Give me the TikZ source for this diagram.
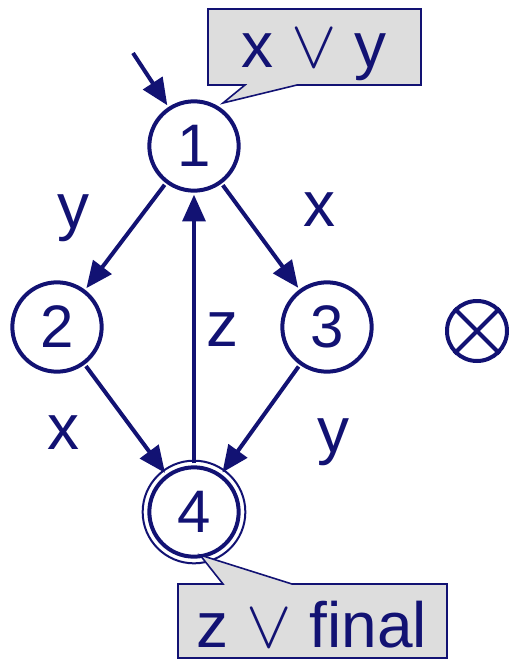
\documentclass[tikz,border=0pt]{standalone}
\usepackage{fontspec}
\usepackage{graphicx}
\setmainfont{Liberation Sans}
\usetikzlibrary{arrows.meta,positioning}
\definecolor{navy}{RGB}{18,18,115}
\definecolor{notegray}{RGB}{221,221,221}
\newcommand{\orsign}{\raisebox{0pt}{\scalebox{2.05}{$\vee$}}}
\tikzset{
  state/.style={circle, draw=navy, line width=3pt, minimum size=67pt, inner sep=0pt, outer sep=3pt, text=navy, font=\fontsize{45}{50}\selectfont},
  lbl/.style={text=navy, font=\fontsize{48}{52}\selectfont},
  note/.style={draw=navy, line width=1.2pt, fill=notegray},
  trans/.style={draw=navy, line width=3pt, -{Triangle[length=20pt,width=17pt]}, color=navy}
}
\begin{document}
\begin{tikzpicture}[x=0.75pt,y=-0.75pt]
\useasboundingbox (0,0) rectangle (511,660);

\node (s1) at (194,146) [state] {1};
\node (s2) at (57,327) [state] {2};
\node (s3) at (327,327) [state] {3};
\node (s4) at (194,512) [state] {4};
\draw [navy, line width=1.5pt] (s4.center) circle [radius=38.5pt];

\node (sink) at (477,331) [circle, draw=navy, line width=3pt, minimum size=45pt, inner sep=0pt] {};
\draw [navy, line width=3pt] (sink.45) -- (sink.225);
\draw [navy, line width=3pt] (sink.135) -- (sink.315);

\coordinate (start) at (133,53);
\draw [trans] (start) -- (s1);
\draw [trans] (s1) -- (s2);
\draw [trans] (s1) -- (s3);
\draw [trans] (s2) -- (s4);
\draw [trans] (s3) -- (s4);
\draw [trans] (s4) -- (s1);

\node (lbl_y12) at (73,218) [lbl] {y};
\node (lbl_x13) at (319,210) [lbl] {x};
\node (lbl_z41) at (222,330) [lbl] {z};
\node (lbl_x24) at (63,433) [lbl] {x};
\node (lbl_y34) at (333,442) [lbl] {y};

\draw [note] (208,9) -- (421,9) -- (421,85) -- (297,85) -- (223,103) -- (245,85) -- (208,85) -- cycle;
\node (note1) at (314,55) [lbl] {x \orsign\ y};

\draw [note] (178,584) -- (223,584) -- (200,555) -- (292,584) -- (447,584) -- (447,658) -- (178,658) -- cycle;
\node (note4) at (312,625) [lbl] {z \orsign\ final};
\end{tikzpicture}
\end{document}
